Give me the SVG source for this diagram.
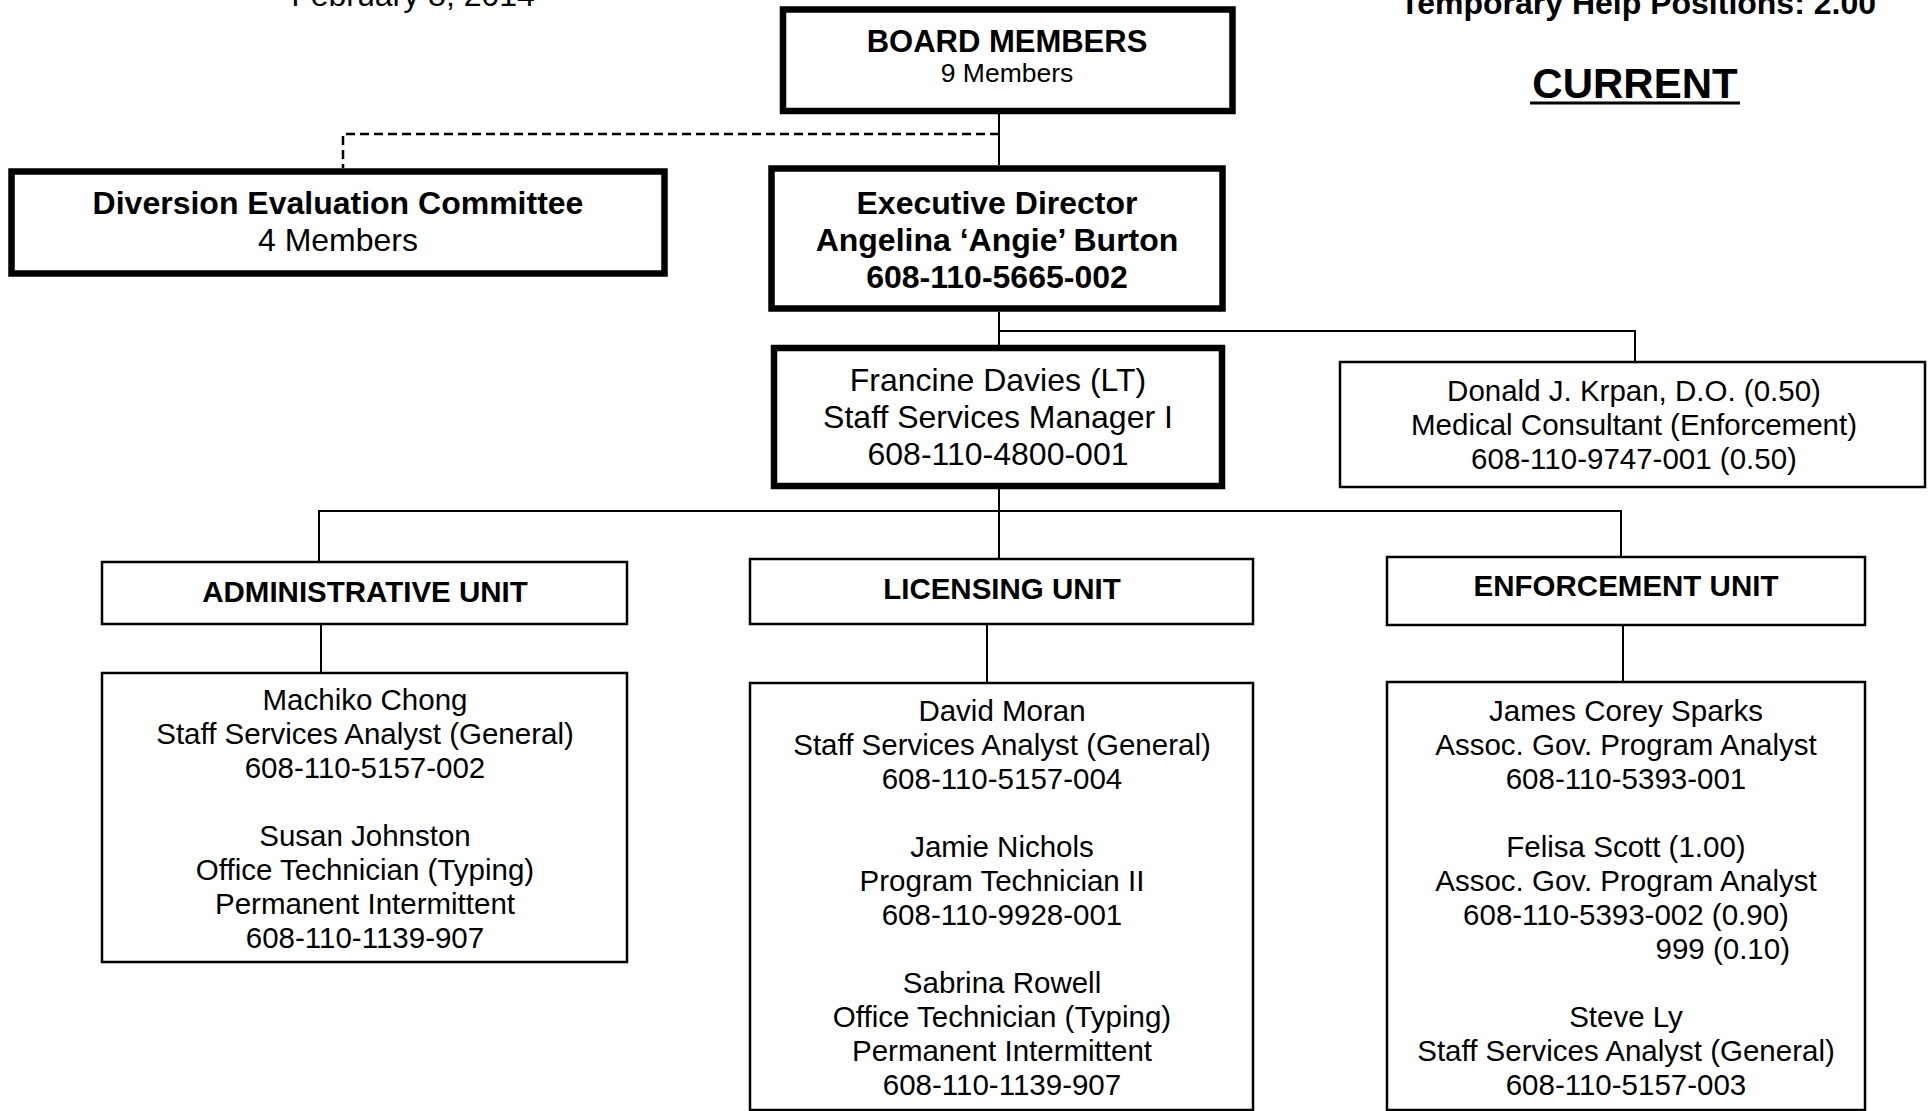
<svg xmlns="http://www.w3.org/2000/svg" width="1928" height="1111" viewBox="0 0 1928 1111">
<style>
text{font-family:"Liberation Sans",Arial,sans-serif;fill:#000;text-anchor:middle}
.b{font-weight:bold}
.f32{font-size:32px}
.f29{font-size:29.5px}
.thick{fill:#fff;stroke:#000;stroke-width:6.5}
.thin{fill:#fff;stroke:#000;stroke-width:2.5}
.con{fill:none;stroke:#000;stroke-width:2}
.dash{fill:none;stroke:#000;stroke-width:2.5;stroke-dasharray:9 5}
</style>
<rect width="1928" height="1111" fill="#fff"/>
<g id="header">
<text class="f32" x="413" y="6">February 8, 2014</text>
<text class="f32 b" x="1638" y="14">Temporary Help Positions: 2.00</text>
<text class="b" x="1635" y="98" style="font-size:42px">CURRENT</text>
<rect x="1530" y="101.5" width="210" height="3" fill="#000"/>
</g>
<g id="connectors">
<line class="con" x1="999" y1="114" x2="999" y2="165"/>
<path class="dash" d="M999,134 H343 V168"/>
<line class="con" x1="999" y1="312" x2="999" y2="345"/>
<path class="con" d="M999,331 H1635 V362"/>
<line class="con" x1="999" y1="489" x2="999" y2="559"/>
<path class="con" d="M319,562 V511 H1621 V557"/>
<line class="con" x1="321" y1="624" x2="321" y2="673"/>
<line class="con" x1="987" y1="624" x2="987" y2="683"/>
<line class="con" x1="1623" y1="625" x2="1623" y2="682"/>
</g>
<g id="board">
<rect class="thick" x="783" y="9.5" width="449.5" height="101.5"/>
<text class="b" x="1007" y="52" style="font-size:31px">BOARD MEMBERS</text>
<text x="1007" y="82" style="font-size:26.5px">9 Members</text>
</g>
<g id="diversion">
<rect class="thick" x="11.5" y="171.5" width="653" height="102"/>
<text class="f32 b" x="338" y="214">Diversion Evaluation Committee</text>
<text class="f32" x="338" y="251">4 Members</text>
</g>
<g id="executive">
<rect class="thick" x="771.5" y="168.5" width="451" height="140"/>
<text class="f32 b" x="997" y="214">Executive Director</text>
<text class="f32 b" x="997" y="251">Angelina ‘Angie’ Burton</text>
<text class="f32 b" x="997" y="288">608-110-5665-002</text>
</g>
<g id="francine">
<rect class="thick" x="774" y="348" width="448" height="138"/>
<text class="f32" x="998" y="391">Francine Davies (LT)</text>
<text class="f32" x="998" y="428">Staff Services Manager I</text>
<text class="f32" x="998" y="465">608-110-4800-001</text>
</g>
<g id="donald">
<rect class="thin" x="1340" y="362" width="585" height="125"/>
<text class="f29" x="1634" y="401">Donald J. Krpan, D.O. (0.50)</text>
<text class="f29" x="1634" y="435">Medical Consultant (Enforcement)</text>
<text class="f29" x="1634" y="469">608-110-9747-001 (0.50)</text>
</g>
<g id="admin-unit">
<rect class="thin" x="102" y="562" width="525" height="62"/>
<text class="f29 b" x="365" y="602">ADMINISTRATIVE UNIT</text>
</g>
<g id="licensing-unit">
<rect class="thin" x="750" y="559" width="503" height="65"/>
<text class="f29 b" x="1002" y="599">LICENSING UNIT</text>
</g>
<g id="enforcement-unit">
<rect class="thin" x="1387" y="557" width="478" height="68"/>
<text class="f29 b" x="1626" y="596">ENFORCEMENT UNIT</text>
</g>
<g id="admin-staff">
<rect class="thin" x="102" y="673" width="525" height="289"/>
<text class="f29" x="365" y="710">Machiko Chong</text>
<text class="f29" x="365" y="744">Staff Services Analyst (General)</text>
<text class="f29" x="365" y="778">608-110-5157-002</text>
<text class="f29" x="365" y="846">Susan Johnston</text>
<text class="f29" x="365" y="880">Office Technician (Typing)</text>
<text class="f29" x="365" y="914">Permanent Intermittent</text>
<text class="f29" x="365" y="948">608-110-1139-907</text>
</g>
<g id="licensing-staff">
<rect class="thin" x="750" y="683" width="503" height="427"/>
<text class="f29" x="1002" y="721">David Moran</text>
<text class="f29" x="1002" y="755">Staff Services Analyst (General)</text>
<text class="f29" x="1002" y="789">608-110-5157-004</text>
<text class="f29" x="1002" y="857">Jamie Nichols</text>
<text class="f29" x="1002" y="891">Program Technician II</text>
<text class="f29" x="1002" y="925">608-110-9928-001</text>
<text class="f29" x="1002" y="993">Sabrina Rowell</text>
<text class="f29" x="1002" y="1027">Office Technician (Typing)</text>
<text class="f29" x="1002" y="1061">Permanent Intermittent</text>
<text class="f29" x="1002" y="1095">608-110-1139-907</text>
</g>
<g id="enforcement-staff">
<rect class="thin" x="1387" y="682" width="478" height="428"/>
<text class="f29" x="1626" y="721">James Corey Sparks</text>
<text class="f29" x="1626" y="755">Assoc. Gov. Program Analyst</text>
<text class="f29" x="1626" y="789">608-110-5393-001</text>
<text class="f29" x="1626" y="857">Felisa Scott (1.00)</text>
<text class="f29" x="1626" y="891">Assoc. Gov. Program Analyst</text>
<text class="f29" x="1626" y="925">608-110-5393-002 (0.90)</text>
<text class="f29" x="1790" y="959" style="text-anchor:end">999 (0.10)</text>
<text class="f29" x="1626" y="1027">Steve Ly</text>
<text class="f29" x="1626" y="1061">Staff Services Analyst (General)</text>
<text class="f29" x="1626" y="1095">608-110-5157-003</text>
</g>
</svg>
